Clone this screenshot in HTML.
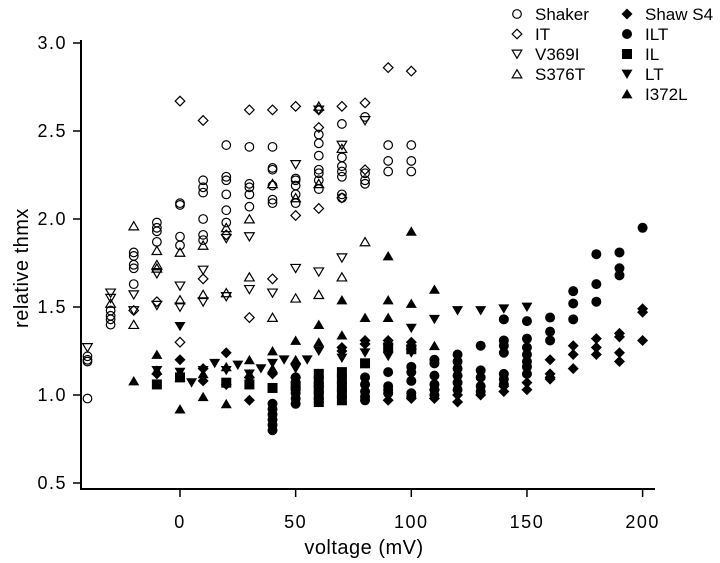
<!DOCTYPE html>
<html><head><meta charset="utf-8"><style>
body{margin:0;background:#fff}
svg{display:block;font-family:"Liberation Sans",Arial,sans-serif}
</style></head><body>
<svg id="chart" width="720" height="563" viewBox="0 0 720 563">
<g id="axes"></g>
<g id="marks"></g>
<g id="legend"></g>
<text x="364" y="554" font-size="20" text-anchor="middle" letter-spacing="0.5">voltage  (mV)</text>
<text transform="translate(28,268) rotate(-90)" font-size="20" text-anchor="middle" letter-spacing="0.5">relative thmx</text>
</svg>
<script>
const xTicks=[0,50,100,150,200];
const yTicks=[0.5,1.0,1.5,2.0,2.5,3.0];
const yTickLabels=["0.5","1.0","1.5","2.0","2.5","3.0"];
const shaker=[[-40,[1.22,1.20,1.19,0.98]],[-30,[1.40,1.43,1.45,1.48]],[-20,[1.81,1.79,1.74,1.72,1.63]],[-10,[1.98,1.95,1.93,1.87]],[0,[2.09,2.08,1.90,1.85]],[10,[2.22,2.18,2.15,2.00,1.91,1.88]],[20,[2.42,2.24,2.22,2.14,2.05,1.98]],[30,[2.41,2.20,2.18,2.14,2.07]],[40,[2.41,2.29,2.28,2.19,2.11,2.09]],[50,[2.23,2.22,2.19,2.14,2.09]],[60,[2.48,2.43,2.36,2.28,2.26,2.22,2.17]],[70,[2.54,2.35,2.30,2.27,2.24,2.14,2.12]],[80,[2.58,2.26,2.22,2.20]],[90,[2.42,2.33,2.27]],[100,[2.42,2.33,2.27]]];
const itVals=[[-20,[1.48]],[-10,[1.53]],[0,[2.67,1.30]],[10,[2.56,1.66]],[20,[1.91]],[30,[2.62,1.44]],[40,[2.62,1.66]],[50,[2.64,2.02]],[60,[2.62,2.52,2.06]],[70,[2.64,2.12]],[80,[2.66,2.28]],[90,[2.86]],[100,[2.84]]];
const v369i=[[-40,[1.27]],[-30,[1.58,1.55]],[-20,[1.57,1.48]],[-10,[1.69,1.51]],[0,[1.62,1.50]],[10,[1.71,1.53]],[20,[1.89,1.56]],[30,[1.90,1.60]],[40,[1.58]],[50,[2.31,1.72]],[60,[2.62,1.70]],[70,[2.42,1.78]],[80,[2.56]]];
const s376t=[[-30,[1.52]],[-20,[1.96,1.40]],[-10,[1.82,1.74,1.72]],[0,[1.81,1.54]],[10,[1.85,1.57]],[20,[1.95,1.58]],[30,[2.00,1.67]],[40,[2.20,1.44]],[50,[2.12,1.55]],[60,[2.64,2.20,1.57]],[70,[2.40,1.67]],[80,[1.87]]];
const shawS4=[[-10,[1.12]],[0,[1.20]],[10,[1.15,1.08]],[20,[1.24,1.06]],[30,[1.10,0.97]],[40,[1.12]],[50,[1.18,1.10]],[60,[1.05]],[70,[1.27,1.25]],[80,[1.31,1.29]],[90,[1.31,1.29,0.97]],[100,[1.30,1.28,0.98]],[110,[1.03,0.98]],[120,[1.00,0.96]],[130,[1.00]],[140,[1.05,1.02]],[150,[1.07,1.03]],[160,[1.20,1.12,1.10,1.09]],[170,[1.28,1.23,1.15]],[180,[1.32,1.27,1.23]],[190,[1.35,1.33,1.24,1.19]],[200,[1.49,1.47,1.31]]];
const ilt=[[40,[0.95,0.92,0.89,0.86,0.83,0.80]],[50,[1.10,1.07,1.04,1.01,0.98,0.95]],[60,[1.10,1.07,1.04,1.01,0.98,0.96]],[70,[1.05,1.02,0.99]],[80,[1.10,1.06,1.02,0.99,0.97]],[90,[1.13,1.05,1.03,1.01]],[100,[1.16,1.13,1.08,1.01,0.99]],[110,[1.20,1.18,1.11,1.06,1.03,1.00]],[120,[1.23,1.19,1.15,1.11,1.07,1.03]],[130,[1.28,1.14,1.10,1.05,1.02]],[140,[1.43,1.31,1.28,1.24,1.12,1.09,1.06]],[150,[1.42,1.32,1.27,1.23,1.19,1.16,1.12]],[160,[1.44,1.36,1.31]],[170,[1.59,1.52,1.43]],[180,[1.80,1.63,1.53]],[190,[1.81,1.72,1.68]],[200,[1.95]]];
const il=[[-10,[1.06]],[0,[1.10]],[20,[1.07]],[30,[1.06]],[40,[1.04]],[50,[1.05]],[60,[1.12,1.08,1.04,1.00,0.96]],[70,[1.13,1.09,1.05,1.01,0.97]],[80,[1.18]],[90,[1.27]],[100,[1.26]]];
const lt=[[-10,[1.14]],[0,[1.39,1.13]],[5,[1.07]],[10,[1.14]],[15,[1.18]],[20,[1.14]],[25,[1.17]],[30,[1.12]],[35,[1.15]],[40,[1.18]],[45,[1.20]],[50,[1.15]],[55,[1.20]],[60,[1.25]],[70,[1.21]],[80,[1.24]],[90,[1.22]],[100,[1.38,1.24]],[110,[1.43]],[120,[1.48]],[130,[1.48]],[140,[1.49]],[150,[1.50]]];
const i372l=[[-20,[1.08]],[-10,[1.23,1.14]],[0,[1.10,0.92]],[10,[1.12,0.99]],[20,[1.16,0.95]],[30,[1.20,1.12]],[40,[1.25,1.15]],[50,[1.31,1.20]],[60,[1.40,1.30]],[70,[1.54,1.34]],[80,[1.44]],[90,[1.79,1.54,1.44]],[100,[1.93,1.52,1.28]],[110,[1.60,1.28]]];

const NS="http://www.w3.org/2000/svg";
function X(v){return 180+v*2.313;}
function Y(v){return 395-(v-1)*176;}
function mk(tag,attrs,parent){const e=document.createElementNS(NS,tag);for(const k in attrs)e.setAttribute(k,attrs[k]);parent.appendChild(e);return e;}
function marker(shape,filled,x,y,parent){
  const st=filled?{fill:"#000",stroke:"none"}:{fill:"none",stroke:"#000","stroke-width":"1.2"};
  let e;
  if(shape==="circle")e=mk("circle",Object.assign({cx:x,cy:y,r:filled?5:4.3},st),parent);
  else if(shape==="diamond"){const r=filled?5.5:4.8;e=mk("polygon",Object.assign({points:`${x},${y-r} ${x+r},${y} ${x},${y+r} ${x-r},${y}`},st),parent);}
  else if(shape==="down"){const r=filled?5.5:4.8;e=mk("polygon",Object.assign({points:`${x-r},${y-r*0.8} ${x+r},${y-r*0.8} ${x},${y+r*0.9}`},st),parent);}
  else if(shape==="up"){const r=filled?5.5:4.8;e=mk("polygon",Object.assign({points:`${x-r},${y+r*0.8} ${x+r},${y+r*0.8} ${x},${y-r*0.9}`},st),parent);}
  else {e=mk("rect",Object.assign({x:x-5,y:y-5,width:10,height:10},st),parent);}
  return e;
}
const axes=document.getElementById('axes');
let l=mk("line",{x1:81,y1:40,x2:81,y2:489,stroke:"#000","stroke-width":2},axes);


l=mk("line",{x1:80,y1:489,x2:655,y2:489,stroke:"#000","stroke-width":2},axes);


xTicks.forEach(t=>{
  const tk=mk("line",{x1:X(t),y1:489,x2:X(t),y2:497,stroke:"#000","stroke-width":1.5},axes);
  
  
  const tx=mk("text",{x:X(t),y:528,"font-size":18,"text-anchor":"middle","letter-spacing":"1.5"},axes);
  tx.textContent=String(t);
  
  
});
yTicks.forEach((t,i)=>{
  const tk=mk("line",{x1:73,y1:Y(t),x2:81,y2:Y(t),stroke:"#000","stroke-width":1.5},axes);
  
  
  const tx=mk("text",{x:67,y:Y(t)+6,"font-size":18,"text-anchor":"end","letter-spacing":"1.5"},axes);
  tx.textContent=yTickLabels[i];
  
  
});
const series=[
  {name:"Shaker",d:shaker,s:"circle",f:false,lx:517,ly:14},
  {name:"IT",d:itVals,s:"diamond",f:false,lx:517,ly:34},
  {name:"V369I",d:v369i,s:"down",f:false,lx:517,ly:54},
  {name:"S376T",d:s376t,s:"up",f:false,lx:517,ly:74},
  {name:"Shaw S4",d:shawS4,s:"diamond",f:true,lx:627,ly:14},
  {name:"ILT",d:ilt,s:"circle",f:true,lx:627,ly:34},
  {name:"IL",d:il,s:"square",f:true,lx:627,ly:54},
  {name:"LT",d:lt,s:"down",f:true,lx:627,ly:74},
  {name:"I372L",d:i372l,s:"up",f:true,lx:627,ly:94}
];
const marks=document.getElementById('marks');
const legend=document.getElementById('legend');
series.forEach(se=>{
  const g=mk("g",{},marks);
  
  
  se.d.forEach(col=>{col[1].forEach(v=>{
    const m=marker(se.s,se.f,X(col[0]),Y(v),g);
    
    
  });});
  const lg=mk("g",{},legend);
  
  
  const lm=marker(se.s,se.f,se.lx,se.ly,lg);
  
  
  const lt2=mk("text",{x:se.lx+18,y:se.ly+6,"font-size":17},lg);
  lt2.textContent=se.name;
  
  
});
</script>
</body></html>
